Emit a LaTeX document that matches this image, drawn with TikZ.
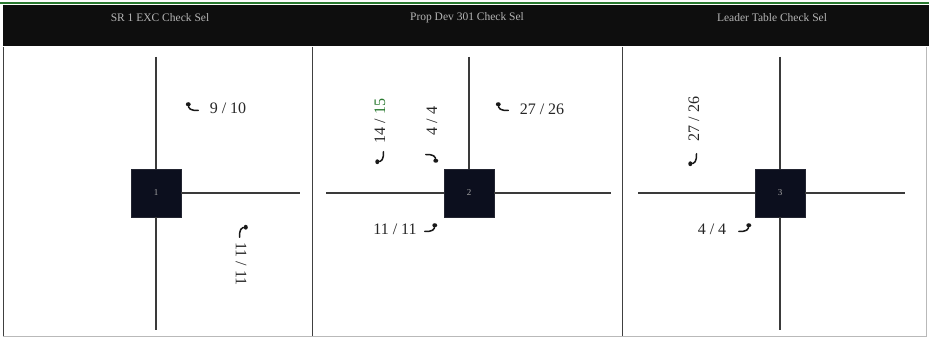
\documentclass[tikz,border=0pt]{standalone}
\usepackage{fontspec}
\setmainfont{Liberation Serif}
\definecolor{hdr}{HTML}{0E0E0E}
\definecolor{boxc}{HTML}{0C0F1E}
\definecolor{lnc}{HTML}{3A3A3A}
\definecolor{grn}{HTML}{2A7A30}
\definecolor{hdrtxt}{HTML}{B4B4B4}
\newcommand{\hookglyph}[4]{%
  \begin{scope}[shift={(#1,#2)},rotate=#3,xscale=#4,scale=1.25]
    \fill[black!90] (-3pt,3pt) ellipse (2pt and 1.6pt);
    \draw[black!90,line width=1.5pt,line cap=round] (-3pt,3pt) .. controls (-3pt,-1pt) and (-1pt,-2pt) .. (5pt,-2pt);
  \end{scope}}
\begin{document}
\begin{tikzpicture}[x=1pt,y=-1pt,
  crossline/.style={lnc,line width=1.1pt},
  sqbox/.style={fill=boxc,draw=boxc!80!gray,minimum width=50pt,minimum height=48pt,inner sep=0pt,text=gray!70,font=\fontsize{9}{10}\selectfont},
  lbl/.style={font=\fontsize{16}{18}\selectfont,text=black!85,inner sep=0pt},
  hlabel/.style={font=\fontsize{11.5}{13}\selectfont,text=hdrtxt,inner sep=0pt},
  frame/.style={draw=gray!55,line width=0.8pt},
  divider/.style={draw=black!75,line width=1pt}]
\useasboundingbox (0,0) rectangle (929,339);
\fill[white] (0,0) rectangle (929,339);
% top green line and header
\fill[grn] (0,2) rectangle (929,4.5);
\fill[hdr] (3,5) rectangle (929,46);
\node[hlabel] (h1) at (160,18) {SR 1 EXC Check Sel};
\node[hlabel] (h2) at (467,18) {Prop Dev 301 Check Sel};
\node[hlabel] (h3) at (772,18) {Leader Table Check Sel};
% panel frames
\draw[frame] (926,47) -- (926,336) -- (3,336);
\draw[divider] (3,47) -- (3,336);
\draw[divider] (312,47) -- (312,336);
\draw[divider] (622,47) -- (622,336);
% boxes
\node[sqbox] (b1) at (156,193) {1};
\node[sqbox] (b2) at (469,193) {2};
\node[sqbox] (b3) at (780,193) {3};
% line ends
\coordinate (p1t) at (156,57); \coordinate (p1b) at (156,330); \coordinate (p1r) at (300,193);
\coordinate (p2t) at (469,57); \coordinate (p2l) at (326,193); \coordinate (p2r) at (611,193);
\coordinate (p3t) at (780,57); \coordinate (p3b) at (780,330); \coordinate (p3l) at (638,193); \coordinate (p3r) at (905,193);
\draw[crossline] (p1t) -- (b1.north); \draw[crossline] (b1.south) -- (p1b); \draw[crossline] (b1.east) -- (p1r);
\draw[crossline] (p2t) -- (b2.north); \draw[crossline] (p2l) -- (b2.west); \draw[crossline] (b2.east) -- (p2r);
\draw[crossline] (p3t) -- (b3.north); \draw[crossline] (b3.south) -- (p3b); \draw[crossline] (p3l) -- (b3.west); \draw[crossline] (b3.east) -- (p3r);
% panel 1 labels
\hookglyph{192}{108}{0}{1}
\node[lbl] (l11) at (228,108) {9 / 10};
\hookglyph{242}{231}{-90}{1}
\node[lbl,rotate=-90] (l12) at (241,264) {11 / 11};
% panel 2 labels
\hookglyph{381}{158}{90}{1}
\node[lbl,rotate=90] (l21) at (380,121) {14 / \textcolor{grn}{15}};
\hookglyph{432}{157}{180}{1}
\node[lbl,rotate=90] (l22) at (432,121) {4 / 4};
\hookglyph{502}{108}{0}{1}
\node[lbl] (l23) at (542,109) {27 / 26};
\hookglyph{431}{229}{0}{-1}
\node[lbl] (l24) at (395,229) {11 / 11};
% panel 3 labels
\hookglyph{694}{160}{90}{1}
\node[lbl,rotate=90] (l31) at (694,119) {27 / 26};
\hookglyph{745}{229}{0}{-1}
\node[lbl] (l32) at (712,229) {4 / 4};
\end{tikzpicture}
\end{document}
